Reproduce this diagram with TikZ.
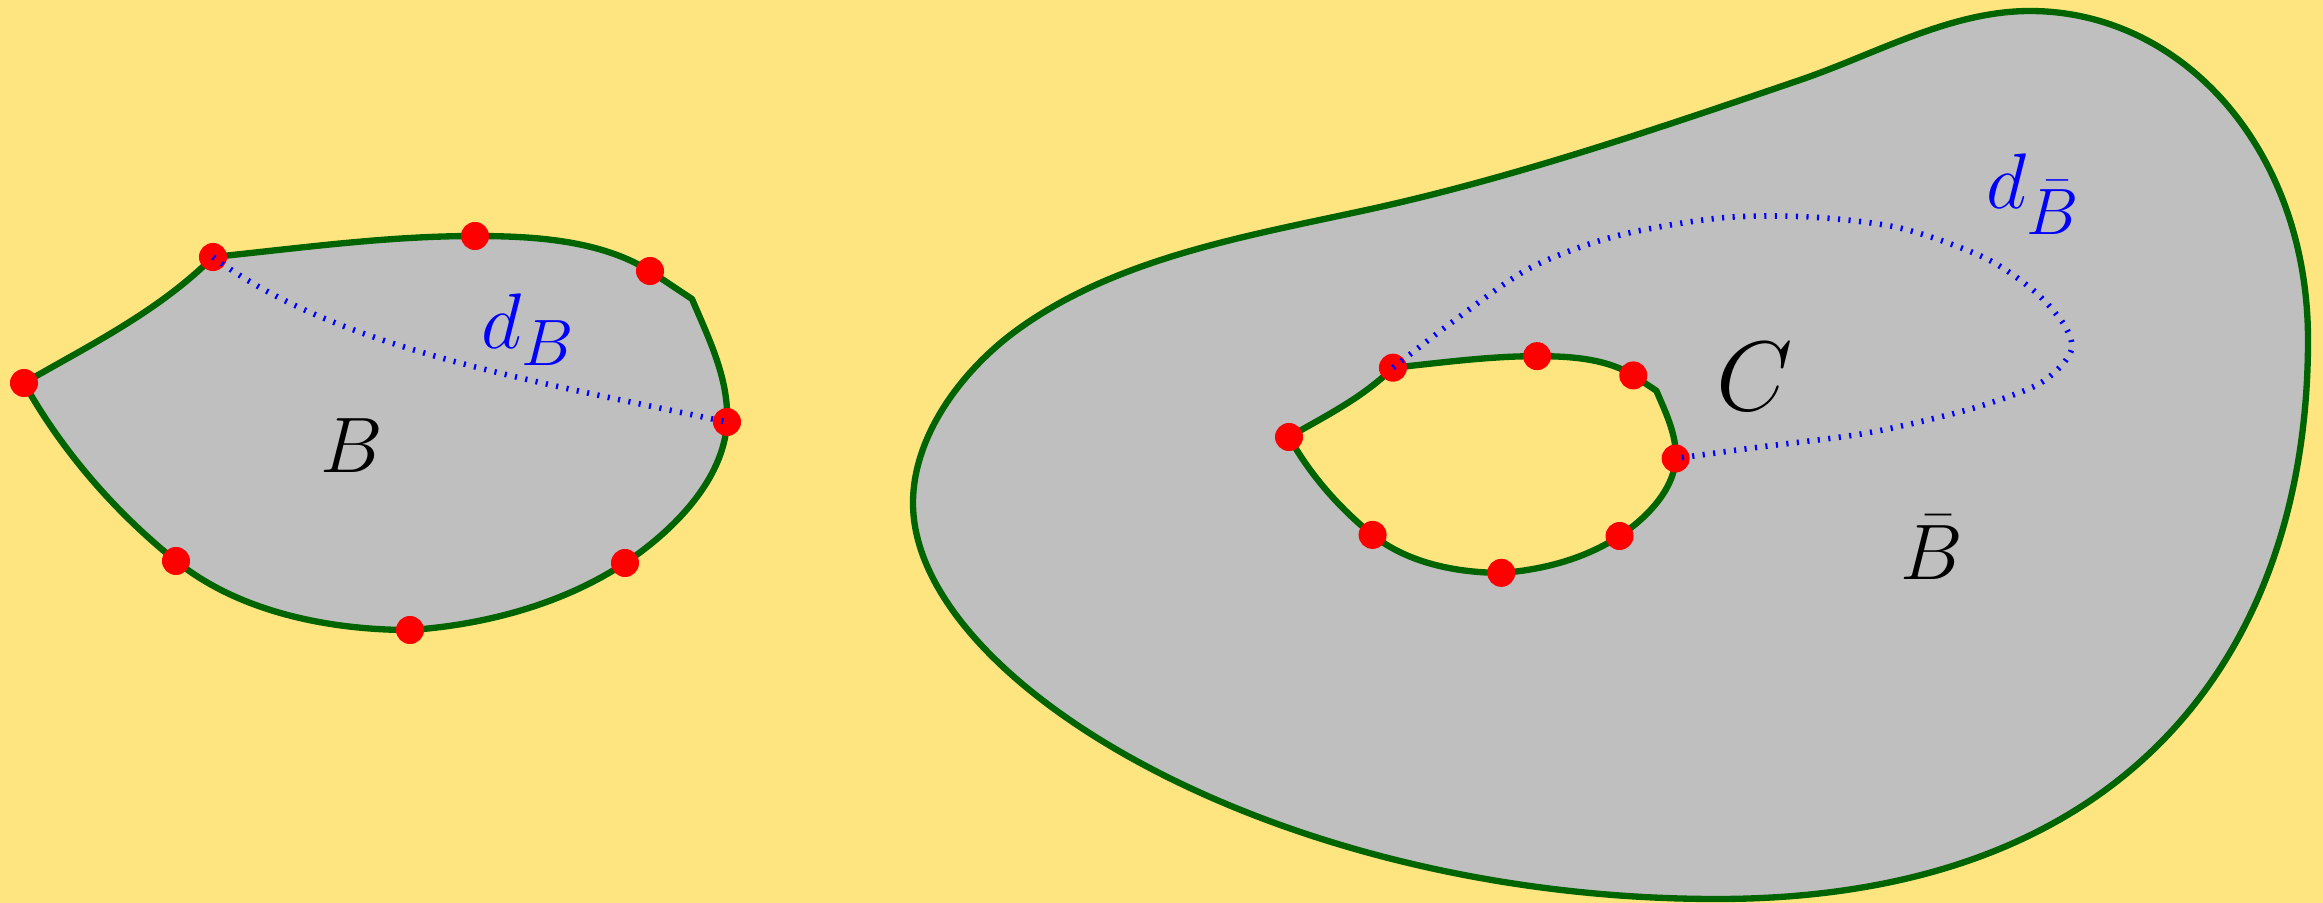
\documentclass[tikz,border=0pt]{standalone}
\definecolor{bgyellow}{RGB}{255,229,128}
\definecolor{regiongray}{RGB}{191,191,191}
\definecolor{edgegreen}{RGB}{0,100,0}
\tikzset{
  edge/.style={draw=edgegreen, line width=1.8pt, line join=round},
  pt/.style={circle, fill=red, inner sep=0pt, minimum size=0.28cm},
  geo/.style={blue, line width=1.6pt, dash pattern=on 0.6pt off 2.4pt},
  lbl/.style={inner sep=0pt, scale=0.9, anchor=base},
  blobpath/.style={insert path={(0,0)
    .. controls (66,-38) and (135,-72) .. (189,-126)
    .. controls (277,-135) and (363,-147) .. (451,-147)
    .. controls (510,-147) and (576,-143) .. (626,-112)
    -- (668,-84)
    .. controls (685,-44) and (705,-4) .. (703,39)
    .. controls (700,97) and (649,148) .. (601,180)
    .. controls (539,221) and (461,242) .. (386,247)
    .. controls (305,247) and (215,229) .. (152,178)
    .. controls (91,129) and (38,68) .. (0,0)
    -- cycle}}
}
\begin{document}
\begin{tikzpicture}[x=0.01cm, y=-0.01cm]
\useasboundingbox (0,0) rectangle (2323,903);
\fill[bgyellow] (0,0) rectangle (2323,903);

% big region B-bar
\filldraw[edge, fill=regiongray] (2030,11)
  .. controls (2183,11) and (2308,150) .. (2308,340)
  .. controls (2308,642) and (2137,899) .. (1717,899)
  .. controls (1275,899) and (913,681) .. (913,503)
  .. controls (913,437) and (960,373) .. (1013,333)
  .. controls (1116,256) and (1254,235) .. (1380,207)
  .. controls (1522,175) and (1662,127) .. (1800,80)
  .. controls (1876,54) and (1950,11) .. (2030,11) -- cycle;

% inner hole C
\begin{scope}[shift={(1289,437)}, scale=0.55]
  \filldraw[edge, fill=bgyellow, blobpath];
  \node[pt] (c1) at (0,0) {};
  \node[pt] (c2) at (189,-126) {};
  \node[pt] (c3) at (451,-147) {};
  \node[pt] (c4) at (626,-112) {};
  \node[pt] (c5) at (703,39) {};
  \node[pt] (c6) at (601,180) {};
  \node[pt] (c7) at (386,247) {};
  \node[pt] (c8) at (152,178) {};
\end{scope}

% left region B
\begin{scope}[shift={(24,383)}]
  \filldraw[edge, fill=regiongray, blobpath];
  \node[pt] (l1) at (0,0) {};
  \node[pt] (l2) at (189,-126) {};
  \node[pt] (l3) at (451,-147) {};
  \node[pt] (l4) at (626,-112) {};
  \node[pt] (l5) at (703,39) {};
  \node[pt] (l6) at (601,180) {};
  \node[pt] (l7) at (386,247) {};
  \node[pt] (l8) at (152,178) {};
\end{scope}

% geodesics
\draw[geo] (l2.center) .. controls (333,347) and (527,380) .. (l5.center);
\draw[geo] plot[smooth] coordinates {(c2.center) (1455,320) (1530,268) (1616,236)
  (1720,218) (1810,217) (1900,228) (1983,257) (2033,290) (2063,323) (2072,347)
  (2060,367) (2033,387) (1967,410) (1867,433) (1760,447) (c5.center)};

% labels
\node[lbl] (labB) at (352,472) {\Huge $B$};
\node[lbl, blue] (labdB) at (528,348) {\Huge $d_B$};
\node[lbl, scale=1.13/0.9] (labC) at (1755,410) {\Huge $C$};
\node[lbl] (labBb) at (1932,579) {\Huge $\bar{B}$};
\node[lbl, blue] (labdBb) at (2033,208) {\Huge $d_{\bar{B}}$};
\end{tikzpicture}
\end{document}
